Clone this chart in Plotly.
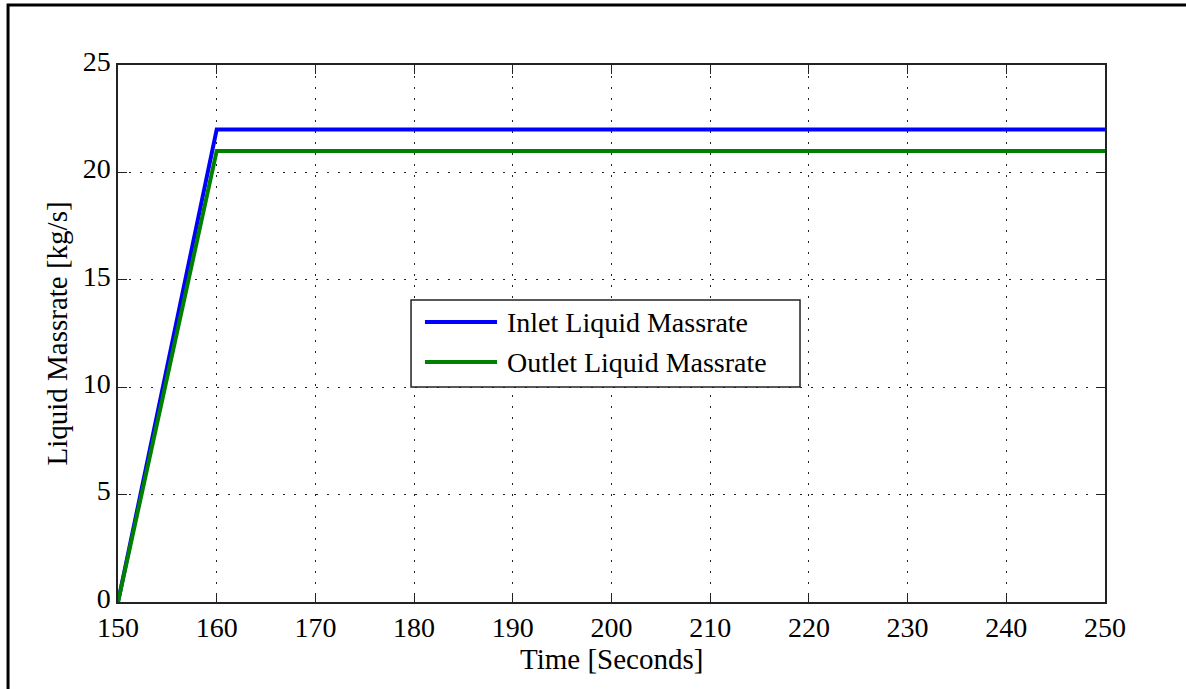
import plotly.graph_objects as go

# Time samples [s] and liquid mass flow rates [kg/s]
time_s = [150, 160, 250]
inlet_massrate = [0, 22, 22]
outlet_massrate = [0, 21, 21]

series_names = ["Inlet Liquid Massrate", "Outlet Liquid Massrate"]
series_colors = ["#0000ff", "#008000"]

x_ticks = [150, 160, 170, 180, 190, 200, 210, 220, 230, 240, 250]
y_ticks = [0, 5, 10, 15, 20, 25]

FONT = "Liberation Serif, Times New Roman, serif"
TICK_SIZE = 28
TITLE_SIZE = 29

fig = go.Figure()
for name, color, vals in zip(series_names, series_colors, [inlet_massrate, outlet_massrate]):
    fig.add_trace(go.Scatter(x=time_s, y=vals, mode="lines", name=name,
                             line=dict(color=color, width=4), showlegend=False))

axis_common = dict(
    showline=True, linecolor="#222", linewidth=1.5, mirror="ticks",
    ticks="inside", ticklen=9, tickcolor="#222", tickwidth=1.2,
    showgrid=True, gridcolor="#222", gridwidth=1.2, griddash="2px,9px",
    zeroline=False, tickfont=dict(family=FONT, size=TICK_SIZE, color="black"),
)

fig.update_xaxes(range=[150, 250], tickvals=x_ticks, **axis_common)
fig.update_yaxes(range=[0, 25], tickvals=y_ticks, ticklabelshift=-4, **axis_common,
                 title=dict(text="Liquid Massrate [kg/s]", font=dict(family=FONT, size=TITLE_SIZE, color="black"),
                            standoff=7))

shapes = []
annotations = []

# x-axis title placed just below the tick labels
annotations.append(dict(xref="paper", yref="paper", x=0.5, y=-0.106,
                        xanchor="center", yanchor="middle", showarrow=False,
                        text="Time [Seconds]", font=dict(family=FONT, size=TITLE_SIZE, color="black")))

# Outer figure frame
shapes.append(dict(type="rect", xref="paper", yref="paper",
                   x0=-0.1114, x1=1.3, y0=-0.4, y1=1.1117,
                   line=dict(color="black", width=3), fillcolor="rgba(0,0,0,0)", layer="above"))

# Legend box
shapes.append(dict(type="rect", xref="paper", yref="paper",
                   x0=0.2969, x1=0.691, y0=0.4004, y1=0.5624,
                   line=dict(color="#222", width=1.5), fillcolor="white", layer="above"))
legend_y = [0.5214, 0.4469]
for name, color, ly in zip(series_names, series_colors, legend_y):
    shapes.append(dict(type="line", xref="paper", yref="paper",
                       x0=0.311, x1=0.384, y0=ly, y1=ly,
                       line=dict(color=color, width=4), layer="above"))
    annotations.append(dict(xref="paper", yref="paper", x=0.3921, y=ly,
                            xanchor="left", yanchor="middle", showarrow=False,
                            text=name, font=dict(family=FONT, size=TICK_SIZE, color="black")))

fig.update_layout(
    width=1186, height=689,
    margin=dict(l=118, r=81, t=65, b=87),
    paper_bgcolor="white", plot_bgcolor="white",
    shapes=shapes, annotations=annotations,
)

fig.write_html("out.html")
